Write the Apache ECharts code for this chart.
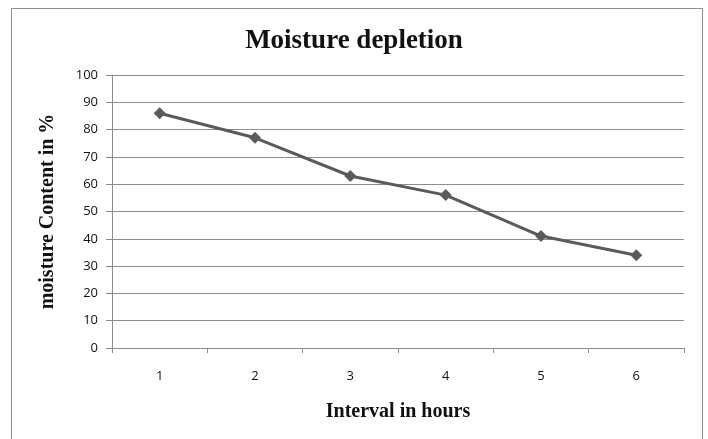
<!DOCTYPE html>
<html>
<head>
<meta charset="utf-8">
<script src="https://cdn.jsdelivr.net/npm/echarts@6/dist/echarts.min.js"></script>
<style>html,body{margin:0;padding:0;background:#fff;}#c{width:708px;height:439px;}</style>
</head>
<body>
<div id="c"></div>
<script>
var categories = ['1', '2', '3', '4', '5', '6'];
var moisture = [86, 77, 63, 56, 41, 34];
var yTicks = { min: 0, max: 100, interval: 10 };

var chart = echarts.init(document.getElementById('c'), null, { renderer: 'canvas' });
chart.setOption({
  backgroundColor: '#fff',
  animation: false,
  graphic: [{
    type: 'rect',
    shape: { x: 11.5, y: 8.5, width: 691, height: 440 },
    style: { fill: 'none', stroke: '#8c8c8c', lineWidth: 1 },
    silent: true
  }],
  title: {
    text: 'Moisture depletion',
    left: 'center',
    top: 23,
    textStyle: { fontFamily: 'Liberation Serif', fontWeight: 'bold', fontSize: 27, color: '#111' }
  },
  grid: { left: 112, right: 24, top: 75, bottom: 91 },
  xAxis: {
    type: 'category',
    data: categories,
    boundaryGap: true,
    name: 'Interval in hours',
    nameLocation: 'middle',
    nameGap: 54,
    nameTextStyle: { fontFamily: 'Liberation Serif', fontWeight: 'bold', fontSize: 20, color: '#111' },
    axisLine: { lineStyle: { color: '#8c8c8c', width: 1 } },
    axisTick: { show: true, length: 5, inside: false, lineStyle: { color: '#8c8c8c' } },
    axisLabel: { fontFamily: 'Open Sans', fontSize: 13, color: '#111', margin: 22 },
    splitLine: { show: false }
  },
  yAxis: {
    type: 'value',
    min: yTicks.min,
    max: yTicks.max,
    interval: yTicks.interval,
    name: 'moisture Content in %',
    nameLocation: 'middle',
    nameGap: 54,
    nameRotate: 90,
    nameTextStyle: { fontFamily: 'Liberation Serif', fontWeight: 'bold', fontSize: 20, color: '#111' },
    axisLine: { show: true, lineStyle: { color: '#8c8c8c', width: 1 } },
    axisTick: { show: true, length: 6, lineStyle: { color: '#8c8c8c' } },
    axisLabel: { fontFamily: 'Open Sans', fontSize: 13, color: '#111', margin: 14 },
    splitLine: { show: true, lineStyle: { color: '#8c8c8c', width: 1 } }
  },
  series: [{
    type: 'line',
    data: moisture,
    symbol: 'diamond',
    symbolSize: 12,
    itemStyle: { color: '#5a5a5a' },
    lineStyle: { color: '#5a5a5a', width: 3 }
  }]
});
</script>
</body>
</html>
